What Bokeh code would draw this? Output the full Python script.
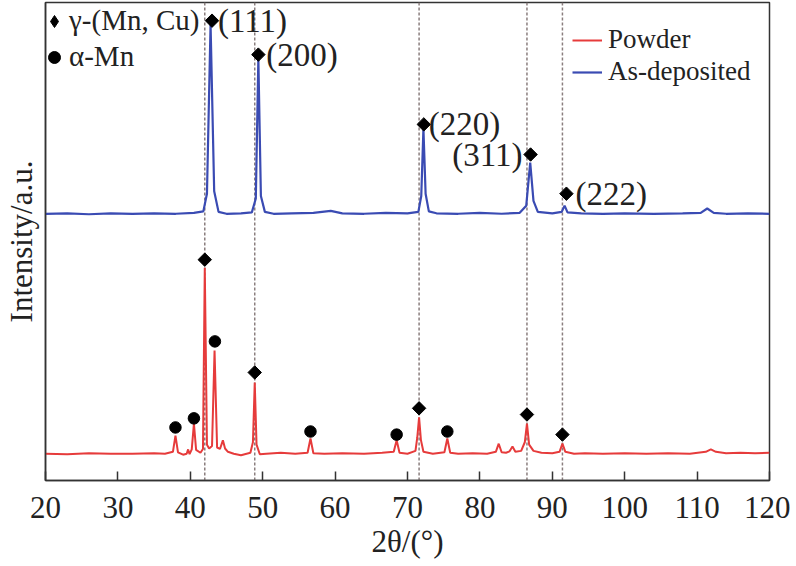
from bokeh.plotting import figure
from bokeh.models import (Range1d, FixedTicker, Span, Legend, LegendItem,
                          ColumnDataSource)
from bokeh.core.properties import value
from bokeh.embed import file_html
from bokeh.resources import INLINE

# ---------------- data ----------------
powder_2theta = [
    20, 23, 26, 29, 32, 35, 36.5, 37.6, 37.95, 38.3,
    39.0, 39.5, 39.7, 39.9, 40.2, 40.5, 40.8, 41.4, 41.75, 42.0,
    42.3, 42.6, 43.0, 43.35, 43.7, 44.1, 44.5, 44.8, 45.2, 46.0,
    47.0, 48.3, 48.65, 48.9, 49.15, 49.6, 50.5, 52.5, 54.5, 56.2,
    56.6, 57.0, 58.5, 61, 64, 66.5, 68.1, 68.5, 68.9, 70.0,
    71.1, 71.35, 71.6, 71.85, 72.2, 73.5, 75.1, 75.5, 75.9, 77,
    79, 81, 82.2, 82.6, 83.0, 83.6, 84.1, 84.5, 84.9, 85.7,
    86.2, 86.5, 86.8, 87.4, 88.5, 90.0, 91.0, 91.4, 91.8, 93,
    94.5, 97, 100, 103, 106, 109, 111.2, 111.9, 112.6, 114,
    116, 118, 120]
powder_intensity = [
    5.6, 5.5, 5.7, 5.6, 5.6, 5.7, 5.6, 6.0, 9.4, 5.9,
    5.4, 5.6, 6.5, 5.5, 6.5, 11.9, 6.4, 5.8, 6.6, 44.5,
    7.5, 6.7, 7.2, 27.2, 6.9, 6.6, 8.4, 6.7, 6.0, 5.6,
    5.3, 5.8, 8.0, 20.5, 7.5, 5.5, 5.6, 5.8, 5.6, 5.8,
    8.8, 5.7, 5.6, 5.7, 5.6, 5.8, 6.0, 8.4, 5.8, 5.6,
    6.2, 9.0, 13.2, 8.5, 6.0, 5.6, 5.9, 8.8, 5.8, 5.6,
    5.7, 5.6, 6.0, 7.7, 5.9, 5.8, 6.1, 7.1, 6.0, 6.2,
    8.0, 11.9, 7.5, 6.2, 5.8, 5.7, 6.0, 7.7, 6.0, 5.6,
    5.7, 5.6, 5.7, 5.6, 5.7, 5.6, 6.0, 6.5, 6.0, 5.7,
    5.8, 5.7, 5.8]

asdep_2theta = [
    20, 23, 26, 29, 32, 35, 38, 40.5, 41.8, 42.3,
    42.8, 43.3, 43.9, 45, 47, 48.5, 49.05, 49.4, 49.75, 50.3,
    51.5, 54, 57, 59.4, 61, 64, 67, 70, 71.5, 71.9,
    72.2, 72.5, 72.95, 74, 77, 80, 83, 85.5, 86.4, 86.95,
    87.4, 88.0, 90, 91.3, 91.7, 92.1, 94, 97, 100, 104,
    108, 110.5, 111.4, 112.3, 114, 117, 120]
asdep_intensity = [
    55.8, 55.9, 55.7, 55.9, 55.8, 55.9, 55.8, 56.0, 56.3, 60.0,
    95.4, 60.5, 56.2, 55.8, 55.9, 56.1, 59.0, 88.3, 59.5, 56.2,
    55.8, 55.9, 56.0, 56.4, 55.9, 55.8, 56.0, 55.9, 56.2, 59.5,
    73.6, 60.0, 56.3, 55.9, 55.8, 56.0, 55.8, 56.0, 57.5, 66.5,
    58.5, 56.2, 55.9, 56.2, 57.5, 56.1, 55.9, 55.8, 55.9, 55.8,
    55.9, 56.0, 56.9, 56.0, 55.8, 55.9, 55.8]

# phase markers
gamma_powder_x = [42.0, 48.9, 71.6, 86.5, 91.4]
gamma_powder_y = [46.2, 22.6, 15.1, 13.8, 9.6]
alpha_powder_x = [37.95, 40.5, 43.4, 56.6, 68.5, 75.5]
alpha_powder_y = [11.1, 13.0, 29.1, 10.25, 9.6, 10.25]
gamma_asdep_x = [43.0, 49.4, 72.25, 87.0, 91.95]
gamma_asdep_y = [96.2, 89.1, 74.5, 68.2, 60.0]
hkl_labels = ["(111)", "(200)", "(220)", "(311)", "(222)"]
reference_lines = [42.0, 48.9, 71.6, 86.5, 91.4]
x_ticks = [20, 30, 40, 50, 60, 70, 80, 90, 100, 110, 120]

# ---------------- styles ----------------
FONT = "Liberation Serif"
RED = "#e63b3b"
BLUE = "#3a4bb3"
label_align = ["left", "left", "left", "right", "left"]
label_dx = [6, 8, 5, -8, 9]

p = figure(width=790, height=564, output_backend="svg", toolbar_location=None,
           x_range=Range1d(20, 120), y_range=Range1d(0, 100),
           min_border_left=45, min_border_right=21, min_border_top=2,
           min_border_bottom=84)
p.grid.visible = False
p.background_fill_color = "white"
p.border_fill_color = "white"
p.outline_line_color = "#333333"
p.outline_line_width = 1.5

# x axis
xa = p.xaxis[0]
xa.ticker = FixedTicker(ticks=x_ticks)
xa.major_tick_in = 9
xa.major_tick_out = 0
xa.minor_tick_line_color = None
xa.major_tick_line_color = "#333333"
xa.major_tick_line_width = 1.5
xa.axis_line_color = "#333333"
xa.axis_line_width = 1.5
xa.major_label_text_font = FONT
xa.major_label_text_font_size = "31px"
xa.major_label_text_color = "#222222"
xa.major_label_standoff = 16
xa.axis_label = "2θ/(°)"
xa.axis_label_text_font = FONT
xa.axis_label_text_font_size = "31px"
xa.axis_label_text_font_style = "normal"
xa.axis_label_text_color = "#222222"
xa.axis_label_standoff = 3

# y axis: no ticks, only the label
ya = p.yaxis[0]
ya.ticker = FixedTicker(ticks=[])
ya.major_tick_in = 0
ya.major_tick_out = 0
ya.minor_tick_line_color = None
ya.axis_line_color = "#333333"
ya.axis_line_width = 1.5
ya.axis_label = "Intensity/a.u."
ya.axis_label_text_font = FONT
ya.axis_label_text_font_size = "31px"
ya.axis_label_text_font_style = "normal"
ya.axis_label_text_color = "#222222"
ya.axis_label_standoff = 7

# dashed reference lines
for loc in reference_lines:
    p.add_layout(Span(location=loc, dimension="height", line_color="#8a7e7e",
                      line_width=1.5, line_dash="3 2", level="underlay"))

r_powder = p.line(powder_2theta, powder_intensity, line_color=RED, line_width=2)
r_asdep = p.line(asdep_2theta, asdep_intensity, line_color=BLUE, line_width=2.2)

p.scatter(gamma_powder_x, gamma_powder_y, marker="square", angle=0.785398,
          size=9.5, color="black")
p.scatter(gamma_asdep_x, gamma_asdep_y, marker="square", angle=0.785398,
          size=9.5, color="black")
r_ap = p.scatter(alpha_powder_x, alpha_powder_y, marker="circle", size=11.5,
                 color="black")
# hidden twin of the gamma markers, used only for the legend symbol
r_gleg = p.scatter(gamma_powder_x, gamma_powder_y, marker="diamond", size=12,
                   color="black", visible=False)

lab_src = ColumnDataSource(dict(x=gamma_asdep_x, y=gamma_asdep_y, text=hkl_labels,
                                align=label_align, dx=label_dx))
p.text(x="x", y="y", text="text", source=lab_src, text_align="align",
       x_offset="dx", text_baseline="middle", text_font=value(FONT),
       text_font_size="33px", text_color="#222222")

phase_legend = Legend(items=[LegendItem(label="γ-(Mn, Cu)", renderers=[r_gleg]),
                             LegendItem(label="α-Mn", renderers=[r_ap])],
                      location=(-6, 407), glyph_width=30, glyph_height=30,
                      label_height=30, spacing=3, padding=0, margin=0,
                      label_standoff=0, border_line_color=None,
                      background_fill_alpha=0, label_text_font=FONT,
                      label_text_line_height=1.0,
                      label_text_font_size="29px", label_text_color="#222222")
series_legend = Legend(items=[LegendItem(label="Powder", renderers=[r_powder]),
                              LegendItem(label="As-deposited", renderers=[r_asdep])],
                       location=(527, 393), glyph_width=30, glyph_height=30,
                       label_height=30, spacing=1, padding=0, margin=0,
                       label_standoff=6, border_line_color=None,
                       background_fill_alpha=0, label_text_font=FONT,
                       label_text_font_size="27px", label_text_color="#222222")
p.add_layout(phase_legend)
p.add_layout(series_legend)

open("out.html", "w").write(file_html(p, INLINE))
